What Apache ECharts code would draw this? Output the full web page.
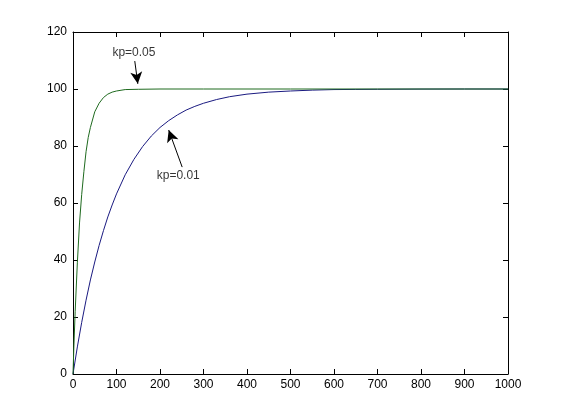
<!DOCTYPE html>
<html>
<head>
<meta charset="utf-8">
<script src="https://cdn.jsdelivr.net/npm/echarts@6/dist/echarts.min.js"></script>
<style>
html, body { margin: 0; padding: 0; background: #fff; }
#chart { width: 561px; height: 420px; }
</style>
</head>
<body>
<div id="chart"></div>
<script>
// kp=0.01 response
var slowT = [0, 10, 20, 30, 40, 50, 60, 70, 80, 90, 100, 120, 140, 160, 180, 200, 220, 240, 260, 280, 300, 330, 360, 400, 450, 500, 550, 600, 650, 700, 800, 900, 1000];
var slowY = [0, 9.5, 18.1, 25.9, 33, 39.3, 45.1, 50.3, 55.1, 59.3, 63.2, 69.9, 75.3, 79.8, 83.5, 86.5, 88.9, 90.9, 92.6, 93.9, 95, 96.3, 97.3, 98.2, 98.9, 99.3, 99.6, 99.8, 99.85, 99.9, 99.97, 100, 100];

// kp=0.05 response
var fastT = [0, 2, 5, 10, 15, 20, 25, 30, 35, 40, 50, 60, 70, 80, 90, 100, 120, 150, 200, 300, 400, 500, 600, 700, 800, 900, 1000];
var fastY = [0, 9.5, 22, 39, 53, 63, 71, 78, 83, 86.5, 92, 95, 97, 98.2, 98.9, 99.3, 99.8, 99.9, 100, 100, 100, 100, 100, 100, 100, 100, 100];

// annotations: text and arrow (tail -> head) in data units
var noteText = ['kp=0.05', 'kp=0.01'];
var notePos = [[140, 112.8], [242, 69.5]];
var arrowTail = [[142, 109.8], [251, 72.6]];
var arrowHead = [[149, 101.8], [220, 85.6]];

var chart = {
	init: function(){
		var myChart = echarts.init(document.getElementById('chart'));
		myChart.setOption(chart.getOption());
	},
	pairs: function(xs, ys){
		var out = [];
		for (var i = 0; i < xs.length; i++) out.push([xs[i], ys[i]]);
		return out;
	},
	axisX: function(pos, show){
		return {
			type: 'value', position: pos, min: 0, max: 1000, interval: 100,
			axisLine: { show: true, onZero: false, lineStyle: { color: '#000', width: 1 } },
			axisTick: { show: true, inside: true, length: 5, lineStyle: { color: '#000' } },
			axisLabel: { show: show, color: '#000', fontSize: 12, fontFamily: 'Liberation Sans', margin: 5,
				formatter: function(v){ return String(v); } },
			splitLine: { show: false }
		};
	},
	axisY: function(pos, show){
		return {
			type: 'value', position: pos, min: 0, max: 120, interval: 20,
			axisLine: { show: true, onZero: false, lineStyle: { color: '#000', width: 1 } },
			axisTick: { show: true, inside: true, length: 5, lineStyle: { color: '#000' } },
			axisLabel: { show: show, color: '#000', fontSize: 12, fontFamily: 'Liberation Sans', margin: 6 },
			splitLine: { show: false }
		};
	},
	getOption: function(){
		var arrows = [];
		for (var i = 0; i < arrowTail.length; i++) {
			arrows.push([
				{ coord: arrowTail[i], symbol: 'none' },
				{ coord: arrowHead[i], symbol: 'arrow', symbolSize: [9, 12] }
			]);
		}
		var notes = [];
		for (var j = 0; j < noteText.length; j++) {
			notes.push({ name: noteText[j], value: notePos[j] });
		}
		return {
			animation: false,
			backgroundColor: '#fff',
			grid: { left: 73, right: 53, top: 32, bottom: 46 },
			xAxis: [chart.axisX('bottom', true), chart.axisX('top', false)],
			yAxis: [chart.axisY('left', true), chart.axisY('right', false)],
			series: [
				{
					type: 'line', name: 'kp=0.01', data: chart.pairs(slowT, slowY),
					showSymbol: false, smooth: false,
					lineStyle: { color: '#1a1a80', width: 1 }
				},
				{
					type: 'line', name: 'kp=0.05', data: chart.pairs(fastT, fastY),
					showSymbol: false, smooth: false,
					lineStyle: { color: '#1f6a1f', width: 1 },
					markLine: {
						silent: true, animation: false,
						lineStyle: { color: '#000', width: 1, type: 'solid' },
						label: { show: false },
						data: arrows
					}
				},
				{
					type: 'scatter', data: notes, symbolSize: 0, silent: true,
					label: {
						show: true, position: 'inside', formatter: '{b}',
						color: '#000', fontSize: 12, fontFamily: 'Liberation Sans'
					}
				}
			]
		};
	}
};

chart.init();
</script>
</body>
</html>
